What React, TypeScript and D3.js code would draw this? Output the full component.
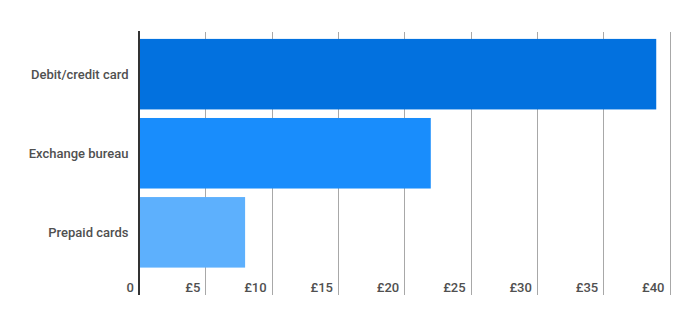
import React from "react";
import * as d3 from "d3";

const categories = ["Debit/credit card", "Exchange bureau", "Prepaid cards"];
const values = [39, 22, 8];
const barColors = ["#0271df", "#198dfc", "#5db0fd"];
const tickValues = [0, 5, 10, 15, 20, 25, 30, 35, 40];
const tickLabels = ["0", "£5", "£10", "£15", "£20", "£25", "£30", "£35", "£40"];

export default function App() {
  const W = 700, H = 327;
  const x = d3.scaleLinear().domain([0, 40]).range([139, 669.5]);
  const y = d3.scaleBand<string>().domain(categories).range([31, 275.5]).paddingInner(0.108).paddingOuter(0.1);
  const gridTop = 32, gridBottom = 295;
  const font = "Roboto, 'Noto Sans', sans-serif";
  return (
    <svg width={W} height={H} style={{ position: "absolute", left: 0, top: 0, background: "#fff" }}>
      <rect width={W} height={H} fill="#fff" />
      {tickValues.slice(1).map((t) => (
        <line key={t} x1={Math.round(x(t)) + 0.5} x2={Math.round(x(t)) + 0.5} y1={gridTop} y2={gridBottom} stroke="#a8a8a8" strokeWidth={1} />
      ))}
      {categories.map((c, i) => (
        <rect key={c} x={x(0)} y={y(c)!} width={x(values[i]) - x(0)} height={y.bandwidth()} fill={barColors[i]} />
      ))}
      <line x1={139} x2={139} y1={31} y2={gridBottom} stroke="#333" strokeWidth={2} />
      {categories.map((c) => (
        <text key={c} x={128.5} y={y(c)! + y.bandwidth() / 2} dy="0.35em" textAnchor="end" fontFamily={font} fontSize={13} fontWeight={500} fill="#505050">{c}</text>
      ))}
      {tickValues.map((t, i) => (
        <text key={t} x={x(t) - 5} y={292} textAnchor="end" fontFamily={font} fontSize={13} fontWeight={500} fill="#505050">{tickLabels[i]}</text>
      ))}
    </svg>
  );
}
